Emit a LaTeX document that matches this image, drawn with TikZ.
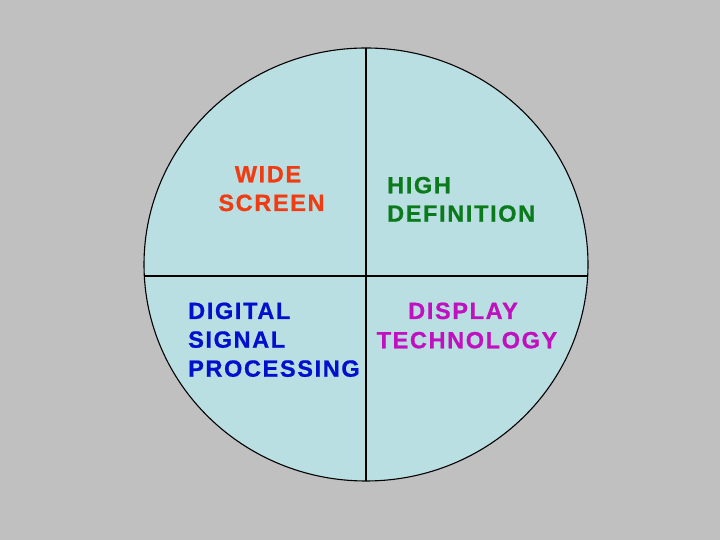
\documentclass[tikz,border=0pt]{standalone}
\usepackage{fontspec}
\setmainfont{Liberation Sans}[LetterSpace=7, BoldFeatures={FakeBold=0.8}]
\definecolor{bg}{HTML}{C0C0C0}
\definecolor{disc}{HTML}{BADFE2}
\definecolor{cred}{HTML}{F03C12}
\definecolor{cgreen}{HTML}{0A7A1C}
\definecolor{cmag}{HTML}{C010C0}
\definecolor{cblue}{HTML}{0010CC}
\tikzset{
  lbl/.style={inner sep=0pt, font=\fontsize{23.5}{28}\selectfont\bfseries},
  divider/.style={draw=black, line width=1.8pt},
}
\begin{document}
\begin{tikzpicture}[x=1pt,y=1pt]
\fill[bg] (0,0) rectangle (720,540);
\useasboundingbox (0,0) rectangle (720,540);
\draw[fill=disc, draw=black, line width=1.1pt] (366,275.5) ellipse [x radius=222, y radius=216.5];
\coordinate (top) at (366,492);
\coordinate (bot) at (366,59);
\coordinate (lft) at (144.3,264);
\coordinate (rgt) at (587.7,264);
\draw[divider] (top) -- (bot);
\draw[divider] (lft) -- (rgt);
\node[lbl, text=cred, anchor=base] (ws1) at (268,357.7) {WIDE};
\node[lbl, text=cred, anchor=base] (ws2) at (271.5,329) {SCREEN};
\node[lbl, text=cgreen, anchor=base west] (hd1) at (387,346.7) {HIGH};
\node[lbl, text=cgreen, anchor=base west] (hd2) at (387,318.3) {DEFINITION};
\node[lbl, text=cblue, anchor=base west] (ds1) at (188,221) {DIGITAL};
\node[lbl, text=cblue, anchor=base west] (ds2) at (188,192.3) {SIGNAL};
\node[lbl, text=cblue, anchor=base west] (ds3) at (188,163.3) {PROCESSING};
\node[lbl, text=cmag, anchor=base] (dt1) at (463,221) {DISPLAY};
\node[lbl, text=cmag, anchor=base] (dt2) at (467,191.7) {TECHNOLOGY};
\end{tikzpicture}
\end{document}
